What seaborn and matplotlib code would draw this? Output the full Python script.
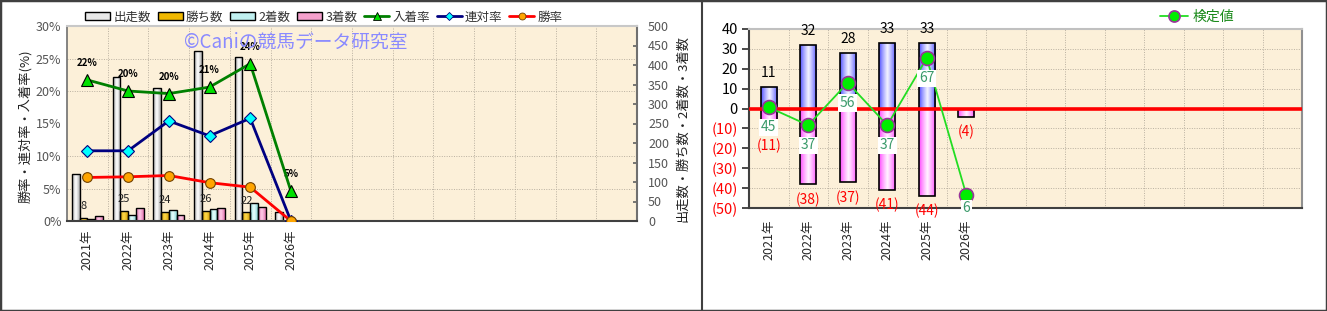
import numpy as np
import pandas as pd
import matplotlib
matplotlib.use("Agg")
import matplotlib.pyplot as plt
import seaborn as sns
from matplotlib.patches import Patch, Rectangle
from matplotlib.lines import Line2D
from matplotlib.colors import to_rgb
from matplotlib.ticker import FixedLocator

# ---------------- data ----------------
years = ["2021年", "2022年", "2023年", "2024年", "2025年", "2026年"]
runs = [120, 368, 341, 437, 421, 22]
wins = [8, 25, 24, 26, 22, 0]
seconds = [5, 15, 28, 31, 45, 0]
thirds = [13, 34, 15, 33, 35, 1]
place_rate = [21.7, 20.0, 19.6, 20.6, 24.2, 4.6]
rentai_rate = [10.8, 10.8, 15.4, 13.1, 15.8, 0.0]
win_rate = [6.7, 6.8, 7.0, 5.9, 5.2, 0.0]

pos_vals = [11, 32, 28, 33, 33, 0]
neg_vals = [-11, -38, -37, -41, -44, -4]
test_vals = [45, 37, 56, 37, 67, 6]

bar_names = ["出走数", "勝ち数", "2着数", "3着数"]
line_names = ["入着率", "連対率", "勝率"]
N_SLOTS = 14

# ---------------- style ----------------
sns.set_theme(style="white")
plt.rcParams["font.family"] = ["Noto Sans CJK JP", "DejaVu Sans"]

W, H = 1327, 311
fig = plt.figure(figsize=(W / 100, H / 100), dpi=100)
fig.patch.set_facecolor("white")
BG = "#fcf0d9"
GRID = dict(color="#b9b0a0", linestyle=(0, (1, 1.5)), linewidth=0.7)


def gradient_fill(ax, container, edge, center):
    e = np.array(to_rgb(edge))
    c = np.array(to_rgb(center))
    t = np.linspace(0, 1, 64)
    f = (1 - np.abs(2 * t - 1)) ** 0.8
    img = (e + (c - e) * f[:, None])[None, :, :]
    for p in container.patches:
        x0, y0 = p.get_x(), p.get_y()
        w, h = p.get_width(), p.get_height()
        if h == 0:
            p.set_facecolor(edge)
            continue
        im = ax.imshow(img, extent=[x0, x0 + w, min(y0, y0 + h), max(y0, y0 + h)],
                       aspect="auto", interpolation="bilinear",
                       zorder=p.get_zorder() - 0.01)
        im.set_clip_path(p)
        p.set_facecolor("none")


# ================= left chart =================
ax = fig.add_axes([67 / W, 1 - 221 / H, 570 / W, 195 / H])
ax.set_facecolor(BG)
df = pd.DataFrame({
    "year": years * 4,
    "series": sum([[n] * len(years) for n in bar_names], []),
    "value": runs + wins + seconds + thirds,
})
bar_edges = ["#a0a0a0", "#d09800", "#7ccfcf", "#de6aa8"]
bar_centers = ["#ffffff", "#ffd94a", "#eaffff", "#ffcce8"]
sns.barplot(data=df, x="year", y="value", hue="series", order=years,
            hue_order=bar_names, palette=bar_centers, width=0.76, saturation=1,
            edgecolor="black", linewidth=1.0, errorbar=None, legend=False,
            ax=ax, zorder=2)
for cont, e, c in zip(ax.containers, bar_edges, bar_centers):
    gradient_fill(ax, cont, e, c)

# win-count labels above win bars
for p, v in zip(ax.containers[1].patches, wins):
    if v > 0:
        ax.annotate(str(v), (p.get_x() + p.get_width() / 2, p.get_height()),
                    xytext=(0, 8.5), textcoords="offset points", ha="center",
                    va="center", fontsize=8, color="#222222", zorder=6)

ax2 = ax.twinx()
xs = np.arange(len(years))
sns.lineplot(x=xs, y=place_rate, ax=ax2, color="#008000", linewidth=2,
             marker="^", markersize=9, markerfacecolor="#00e000",
             markeredgecolor="black", markeredgewidth=0.8, zorder=5)
sns.lineplot(x=xs, y=rentai_rate, ax=ax2, color="#000080", linewidth=2,
             marker="D", markersize=6, markerfacecolor="#00ffff",
             markeredgecolor="#000080", markeredgewidth=0.8, zorder=5)
sns.lineplot(x=xs, y=win_rate, ax=ax2, color="#ff0000", linewidth=2,
             marker="o", markersize=7, markerfacecolor="#ffa500",
             markeredgecolor="#704000", markeredgewidth=0.8, zorder=5)
for i, v in enumerate(place_rate):
    ax2.annotate(f"{int(v + 0.5)}%", (i, v), xytext=(0, 12), textcoords="offset points",
                 ha="center", va="center", fontsize=7, fontweight="bold", color="black")

# axis setup (after twinx, which resets tick sides)
ax.set_xlim(-0.5, N_SLOTS - 0.5)
ax.set_ylim(0, 500)
ax.set_xlabel("")
ax.set_ylabel("")
ax.yaxis.tick_right()
ax.set_yticks(range(0, 501, 50))
ax.yaxis.set_minor_locator(FixedLocator(np.linspace(0, 500, 7)))
ax.set_xticks(np.arange(0.5, N_SLOTS - 0.5, 1), minor=True)
ax.grid(which="minor", **GRID)
ax.grid(which="major", visible=False)
ax.set_axisbelow(True)
ax.tick_params(which="minor", length=0)
ax.tick_params(axis="y", which="major", direction="in", length=3, color="#666666",
               labelsize=9, labelcolor="#555555", pad=8, left=False, labelleft=False,
               right=True, labelright=True)
ax.tick_params(axis="x", which="major", length=0, labelsize=9, pad=6)
plt.setp(ax.get_xticklabels(), rotation=90)
for side, sp in ax.spines.items():
    sp.set_visible(True)
ax.spines["top"].set_color("#c8c8c8")
ax.spines["top"].set_linewidth(1.5)
ax.spines["left"].set_color("#707070")
ax.spines["left"].set_linewidth(1.2)
ax.spines["bottom"].set_color("#404040")
ax.spines["bottom"].set_linewidth(1.5)
ax.spines["right"].set_color("#707070")
ax.spines["right"].set_linewidth(1.5)

ax2.set_ylim(0, 30)
ax2.set_xlim(-0.5, N_SLOTS - 0.5)
ax2.set_ylabel("")
ax2.set_yticks(range(0, 31, 5))
ax2.set_yticklabels([f"{t}%" for t in range(0, 31, 5)])
ax2.tick_params(axis="y", length=0, labelsize=9, labelcolor="#555555", pad=4,
                left=False, labelleft=True, right=False, labelright=False)
for sp in ax2.spines.values():
    sp.set_visible(False)

fig.text(25 / W, 1 - 126 / H, "勝率・連対率・入着率(%)", rotation=90, ha="center",
         va="center", fontsize=9.5, color="#222222")
fig.text(683 / W, 1 - 128 / H, "出走数・勝ち数・2着数・3着数", rotation=90, ha="center",
         va="center", fontsize=9.5, color="#222222")
fig.text(296 / W, 1 - 42 / H, "©Caniの競馬データ研究室", ha="center", va="center",
         fontsize=13.5, color="#8a8aff")

handles = [Patch(facecolor=c, edgecolor="black", linewidth=1.0) for c in
           ["#e8e8e8", "#f0b800", "#c0f0f0", "#f4a0cc"]]
handles += [
    Line2D([], [], color="#008000", lw=2, marker="^", ms=6, mfc="#00e000", mec="black", mew=0.6),
    Line2D([], [], color="#000080", lw=2, marker="D", ms=4, mfc="#00ffff", mec="#000080", mew=0.6),
    Line2D([], [], color="#ff0000", lw=2, marker="o", ms=5, mfc="#ffa500", mec="#704000", mew=0.6),
]
fig.legend(handles, bar_names + line_names, loc="center", bbox_to_anchor=(324 / W, 1 - 17 / H),
           ncol=7, frameon=False, fontsize=9, handlelength=2.0, handleheight=0.55,
           columnspacing=0.55, handletextpad=0.25, labelcolor="#333333")

# ================= right chart =================
ax3 = fig.add_axes([749 / W, 1 - 208 / H, 553 / W, 179 / H])
ax3.set_facecolor(BG)
df2 = pd.DataFrame({
    "year": years * 2,
    "sign": ["plus"] * len(years) + ["minus"] * len(years),
    "value": pos_vals + neg_vals,
})
sns.barplot(data=df2, x="year", y="value", hue="sign", order=years,
            hue_order=["plus", "minus"], palette=["#8080ff", "#ff80ff"], dodge=False,
            width=0.41, saturation=1, edgecolor="black", linewidth=1.2, errorbar=None,
            legend=False, ax=ax3, zorder=2)
gradient_fill(ax3, ax3.containers[0], "#4848ff", "#f4f4ff")
gradient_fill(ax3, ax3.containers[1], "#ff40ff", "#fff4ff")
for p in ax3.containers[0].patches:
    if p.get_height() == 0:
        p.set_visible(False)

ax3.axhline(0, color="#ff0000", lw=2.6, zorder=3)
for i, v in enumerate(pos_vals):
    if v > 0:
        ax3.annotate(str(v), (i, v), xytext=(0, 10), textcoords="offset points",
                     ha="center", va="center", fontsize=10, color="black")
for i, v in enumerate(neg_vals):
    if v < 0:
        ax3.annotate(f"({-v})", (i, v), xytext=(0, -11), textcoords="offset points",
                     ha="center", va="center", fontsize=10, color="#ff0000")

ax4 = ax3.twinx()
sns.lineplot(x=xs, y=test_vals, ax=ax4, color="#22dd22", linewidth=1.3,
             marker="o", markersize=10, markerfacecolor="#00ee00",
             markeredgecolor="#993399", markeredgewidth=1.2, zorder=5)
for i, v in enumerate(test_vals):
    off = -14.5 if v > 10 else -10
    ax4.annotate(str(v), (i, v), xytext=(0, off), textcoords="offset points",
                 ha="center", va="center", fontsize=10, color="#3a9a6a", zorder=6,
                 bbox=dict(facecolor="white", edgecolor="none", pad=1.2))
ax4.set_ylim(0, 80)
ax4.set_xlim(-0.5, N_SLOTS - 0.5)
ax4.set_yticks([])
ax4.set_ylabel("")
for sp in ax4.spines.values():
    sp.set_visible(False)

ax3.set_xlim(-0.5, N_SLOTS - 0.5)
ax3.set_ylim(-50, 40)
ax3.set_xlabel("")
ax3.set_ylabel("")
yt = list(range(-50, 41, 10))
ax3.set_yticks(yt)
ax3.set_yticklabels([f"({-t})" if t < 0 else str(t) for t in yt])
for lbl, t in zip(ax3.get_yticklabels(), yt):
    lbl.set_color("#ff0000" if t < 0 else "black")
ax3.set_xticks(np.arange(0.5, N_SLOTS - 0.5, 1), minor=True)
ax3.grid(which="minor", axis="x", **GRID)
ax3.grid(which="major", axis="y", **GRID)
ax3.grid(which="major", axis="x", visible=False)
ax3.set_axisbelow(True)
ax3.tick_params(which="minor", length=0)
ax3.tick_params(axis="y", which="major", direction="out", length=5, color="#333333",
                labelsize=10.5, pad=3, left=True, labelleft=True, right=False, labelright=False)
ax3.tick_params(axis="x", which="major", length=0, labelsize=9, pad=8)
plt.setp(ax3.get_xticklabels(), rotation=90)
for sp in ax3.spines.values():
    sp.set_visible(True)
ax3.spines["top"].set_color("#c0c0c0")
ax3.spines["top"].set_linewidth(1.5)
ax3.spines["right"].set_color("#909090")
ax3.spines["right"].set_linewidth(1.5)
ax3.spines["left"].set_color("#404040")
ax3.spines["left"].set_linewidth(1.5)
ax3.spines["bottom"].set_color("#404040")
ax3.spines["bottom"].set_linewidth(1.5)

fig.legend([Line2D([], [], color="#22dd22", lw=1.3, marker="o", ms=8, mfc="#00ee00",
                   mec="#993399", mew=1.2)], ["検定値"], loc="center",
           bbox_to_anchor=(1197 / W, 1 - 17 / H), frameon=False, fontsize=10,
           handlelength=2.0, handletextpad=0.3, labelcolor="#1a8a1a")

# ---------------- panel borders ----------------
fig.add_artist(Rectangle((0, 0), 1, 1, transform=fig.transFigure, fill=False,
                         edgecolor="#404040", lw=2.5))
fig.add_artist(Line2D([702 / W, 702 / W], [0, 1], transform=fig.transFigure,
                      color="#404040", lw=1.5))

fig.savefig("out.png", dpi=100)
